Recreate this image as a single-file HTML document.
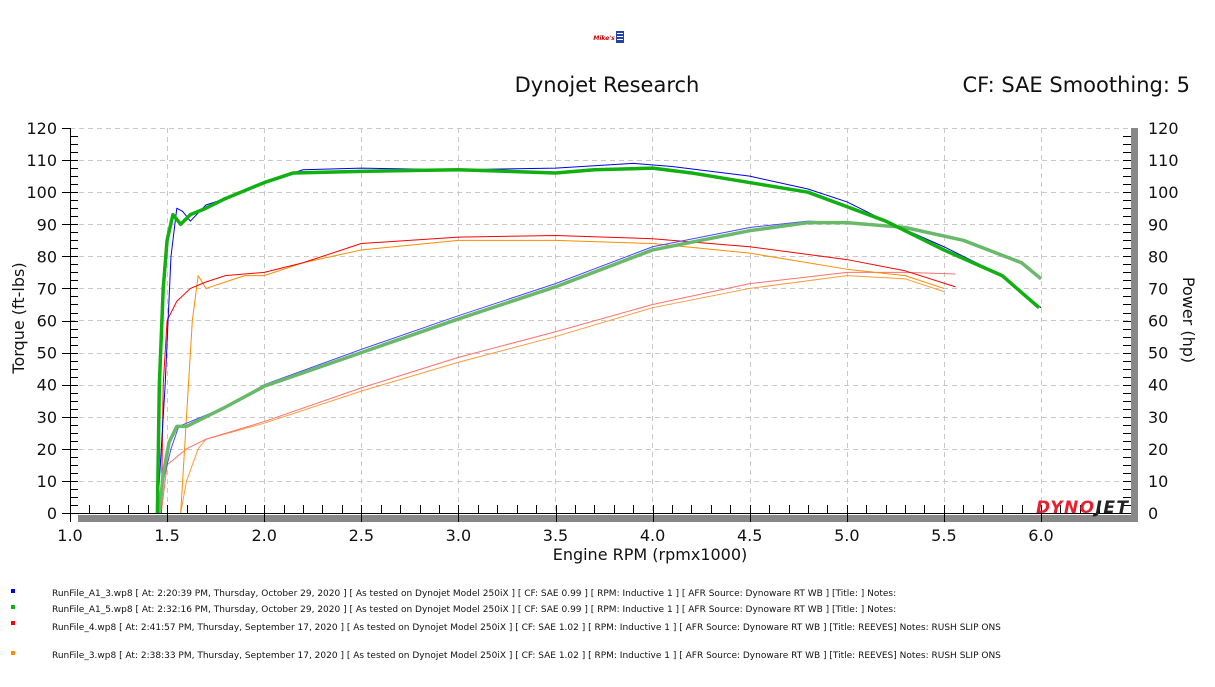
<!DOCTYPE html>
<html><head><meta charset="utf-8"><style>
body{margin:0;background:#fff;width:1215px;height:683px;overflow:hidden;font-family:"DejaVu Sans","Liberation Sans",sans-serif}
</style></head><body>
<svg width="1215" height="683" xmlns="http://www.w3.org/2000/svg" font-family="DejaVu Sans, Liberation Sans, sans-serif">
<text x="604" y="40" font-size="6" fill="#c00" text-anchor="middle" font-style="italic" font-weight="bold">Mike's</text>
<rect x="616" y="31" width="8" height="12" fill="#24a"/>
<rect x="617" y="33" width="6" height="1" fill="#fff"/><rect x="617" y="36" width="6" height="1" fill="#fff"/><rect x="617" y="39" width="6" height="1" fill="#fff"/>
<text x="607" y="92" font-size="21" text-anchor="middle" fill="#111">Dynojet Research</text>
<text x="1190" y="92" font-size="21" text-anchor="end" fill="#111">CF: SAE Smoothing: 5</text>
<g stroke="#c8c8c8" stroke-dasharray="5,4" stroke-width="1">
<line x1="70" x2="1131" y1="160.5" y2="160.5"/><line x1="70" x2="1131" y1="192.5" y2="192.5"/><line x1="70" x2="1131" y1="224.5" y2="224.5"/><line x1="70" x2="1131" y1="256.5" y2="256.5"/><line x1="70" x2="1131" y1="288.5" y2="288.5"/><line x1="70" x2="1131" y1="320.5" y2="320.5"/><line x1="70" x2="1131" y1="353.5" y2="353.5"/><line x1="70" x2="1131" y1="385.5" y2="385.5"/><line x1="70" x2="1131" y1="417.5" y2="417.5"/><line x1="70" x2="1131" y1="449.5" y2="449.5"/><line x1="70" x2="1131" y1="481.5" y2="481.5"/>
<line x1="70" x2="1131" y1="128.5" y2="128.5"/>
<line y1="128" y2="513" x1="167.5" x2="167.5"/><line y1="128" y2="513" x1="264.5" x2="264.5"/><line y1="128" y2="513" x1="361.5" x2="361.5"/><line y1="128" y2="513" x1="458.5" x2="458.5"/><line y1="128" y2="513" x1="555.5" x2="555.5"/><line y1="128" y2="513" x1="652.5" x2="652.5"/><line y1="128" y2="513" x1="750.5" x2="750.5"/><line y1="128" y2="513" x1="847.5" x2="847.5"/><line y1="128" y2="513" x1="944.5" x2="944.5"/><line y1="128" y2="513" x1="1041.5" x2="1041.5"/>
</g>
<rect x="78" y="515" width="1060" height="7" fill="#888"/>
<rect x="1131" y="128" width="7" height="394" fill="#888"/>
<line x1="70.5" y1="128" x2="70.5" y2="520" stroke="#000"/>
<line x1="62" y1="513.5" x2="1131" y2="513.5" stroke="#000"/>
<g id="ticks" stroke="#000"></g>
<text x="1036" y="513" font-size="17" font-weight="bold" font-style="italic" fill="#e82030" textLength="92">DYNO<tspan fill="#222">JET</tspan></text>
<g transform="translate(-124.2,513) scale(194.2,-3.208)" fill="none" stroke-linejoin="round">
<polyline vector-effect="non-scaling-stroke" stroke="#ff9a3c" stroke-width="1" points="1.57,0 1.6,10 1.66,20 1.7,23 2,28 2.5,38 3,47 3.5,55 4,64 4.5,70 5,74 5.3,73 5.5,69"/>
<polyline vector-effect="non-scaling-stroke" stroke="#ff7070" stroke-width="1" points="1.47,0 1.5,15 1.6,20 1.7,23 2,28.5 2.5,39 3,48.5 3.5,56.5 4,65 4.5,71.5 5,75 5.3,75 5.56,74.5"/>
<polyline vector-effect="non-scaling-stroke" stroke="#ff8c00" stroke-width="1" points="1.57,0 1.6,30 1.63,60 1.66,74 1.7,70 1.8,72 1.9,74 2,74 2.2,78 2.5,82 3,85 3.5,85 4,84 4.5,81 5,76 5.3,74 5.5,70"/>
<polyline vector-effect="non-scaling-stroke" stroke="#ff0000" stroke-width="1" points="1.47,0 1.48,40 1.5,60 1.55,66 1.62,70 1.7,72 1.8,74 2,75 2.2,78 2.5,84 3,86 3.5,86.5 4,85.5 4.5,83 5,79 5.3,75.5 5.56,70.5"/>
<polyline vector-effect="non-scaling-stroke" stroke="#4a4aff" stroke-width="1" points="1.45,0 1.48,10 1.52,20 1.56,27 1.6,28 1.8,33 2,40 2.5,51 3,61.5 3.5,71.5 4,83 4.5,89 4.8,91 5,90.5 5.3,89 5.6,85 5.9,78 6,73"/>
<polyline vector-effect="non-scaling-stroke" stroke="#6ab86a" stroke-width="3.5" points="1.46,0 1.48,12 1.51,22 1.55,27 1.6,27 1.8,33 2,39.5 2.5,50 3,60.5 3.5,70.5 4,82 4.5,88 4.8,90.5 5,90.5 5.3,89 5.6,85 5.9,78 6,73"/>
<polyline vector-effect="non-scaling-stroke" stroke="#0000ee" stroke-width="1" points="1.45,0 1.49,40 1.52,80 1.55,95 1.58,94 1.62,91 1.7,96 1.8,98 2,103 2.2,107 2.5,107.5 3,107 3.5,107.5 3.9,109 4.1,108 4.5,105 4.8,101 5,97 5.2,91 5.5,83 5.8,74 6,64"/>
<polyline vector-effect="non-scaling-stroke" stroke="#10b010" stroke-width="3.5" points="1.45,0 1.46,40 1.48,70 1.5,85 1.53,93 1.57,90 1.62,93 1.7,95 1.8,98 2,103 2.15,106 2.5,106.5 3,107 3.5,106 3.7,107 4,107.5 4.2,106 4.5,103 4.8,100 5,95.5 5.2,91 5.5,82 5.8,74 5.99,64"/>
</g>
<g id="labels" font-size="16" fill="#111"></g>
<text x="650" y="560" font-size="16" text-anchor="middle" fill="#111">Engine RPM (rpmx1000)</text>
<text transform="translate(24,318) rotate(-90)" font-size="16" text-anchor="middle" fill="#111">Torque (ft-lbs)</text>
<text transform="translate(1183,320) rotate(90)" font-size="16" text-anchor="middle" fill="#111">Power (hp)</text>
<g font-size="9" fill="#111">
<rect x="11" y="589" width="4" height="4" fill="#0000ee"/><text x="52" y="596">RunFile_A1_3.wp8 [ At: 2:20:39 PM, Thursday, October 29, 2020 ] [ As tested on Dynojet Model 250iX ] [ CF: SAE 0.99 ] [ RPM: Inductive 1 ] [ AFR Source: Dynoware RT WB ] [Title: ]  Notes:</text>
<rect x="11" y="605" width="4" height="4" fill="#10b010"/><text x="52" y="612">RunFile_A1_5.wp8 [ At: 2:32:16 PM, Thursday, October 29, 2020 ] [ As tested on Dynojet Model 250iX ] [ CF: SAE 0.99 ] [ RPM: Inductive 1 ] [ AFR Source: Dynoware RT WB ] [Title: ]  Notes:</text>
<rect x="11" y="621" width="4" height="4" fill="#ff0000"/><text x="52" y="630">RunFile_4.wp8 [ At: 2:41:57 PM, Thursday, September 17, 2020 ] [ As tested on Dynojet Model 250iX ] [ CF: SAE 1.02 ] [ RPM: Inductive 1 ] [ AFR Source: Dynoware RT WB ] [Title: REEVES]  Notes: RUSH SLIP ONS</text>
<rect x="11" y="651" width="4" height="4" fill="#ff8c00"/><text x="52" y="658">RunFile_3.wp8 [ At: 2:38:33 PM, Thursday, September 17, 2020 ] [ As tested on Dynojet Model 250iX ] [ CF: SAE 1.02 ] [ RPM: Inductive 1 ] [ AFR Source: Dynoware RT WB ] [Title: REEVES]  Notes: RUSH SLIP ONS</text>
</g>
</svg>
<script>
var ns="http://www.w3.org/2000/svg",t=document.getElementById("ticks"),l=document.getElementById("labels");
function ln(a,b,c,d){var e=document.createElementNS(ns,"line");e.setAttribute("x1",a);e.setAttribute("y1",b);e.setAttribute("x2",c);e.setAttribute("y2",d);t.appendChild(e);}
function tx(x,y,s,a){var e=document.createElementNS(ns,"text");e.setAttribute("x",x);e.setAttribute("y",y);e.setAttribute("text-anchor",a);e.textContent=s;l.appendChild(e);}
for(var v=0;v<=120;v+=10){var y=513-v*3.208;tx(57,y+6,v,"end");tx(1148,y+6,v,"start");ln(62,Math.round(y)+.5,70,Math.round(y)+.5);}
for(var v=0;v<120;v+=2.5){var y=Math.round(513-v*3.208)+.5;ln(70,y,78,y);ln(1123,y,1131,y);}
for(var r=1;r<=6.01;r+=0.5){var x=70+(r-1)*194.2;tx(x,541,r.toFixed(1),"middle");ln(Math.round(x)+.5,513,Math.round(x)+.5,522);}
for(var r=1.1;r<=6.3;r+=0.1){var x=Math.round(70+(r-1)*194.2)+.5;ln(x,505,x,513);}
</script>
</body></html>
